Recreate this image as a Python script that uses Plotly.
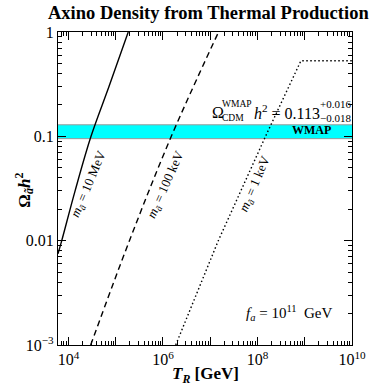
import plotly.graph_objects as go
import numpy as np

# ---- data ----
TR_10MeV = [6.0e3, 7.2e3, 1.38e4, 3.0e4, 7.2e4, 1.84e5]
Om_10MeV = [0.0075, 0.01, 0.03, 0.1, 0.3, 1.0]

TR_100keV = [2.95e4, 1.95e5, 1.5e6, 1.5e7]
Om_100keV = [0.001, 0.01, 0.1, 1.0]

TR_1keV = [1.86e6, 1.48e7, 1.48e8, 8.3e8, 1.0e10]
Om_1keV = [0.001, 0.01, 0.1, 0.53, 0.53]

omega_wmap = 0.113
err_plus = 0.016
err_minus = 0.018

x_tickvals = [1e4, 1e5, 1e6, 1e7, 1e8, 1e9, 1e10]
x_ticktext = ["10<sup>4</sup>", "", "10<sup>6</sup>", "", "10<sup>8</sup>", "", "10<sup>10</sup>"]
y_tickvals = [1e-3, 1e-2, 1e-1, 1]
y_ticktext = ["10<sup>−3</sup>", "0.01", "0.1", "1"]

FONT = "Liberation Serif"
W, H = 378, 387
L, R, T, B = 58, 366, 32, 345


def P(px, py):
    return (px - L) / (R - L), (B - py) / (B - T)


def minor_vals(lo, hi):
    return [k * 10.0 ** n for n in range(lo, hi) for k in range(2, 10)]


fig = go.Figure()

band_lo = omega_wmap - err_minus
band_hi = omega_wmap + err_plus
fig.add_trace(go.Scatter(x=[1e3, 1e11], y=[band_lo, band_lo], mode="lines",
                         line=dict(color="#999999", width=1), showlegend=False, hoverinfo="skip"))
fig.add_trace(go.Scatter(x=[1e3, 1e11], y=[band_hi, band_hi], mode="lines", fill="tonexty",
                         fillcolor="#00FFFF",
                         line=dict(color="#999999", width=1), showlegend=False, hoverinfo="skip"))

fig.add_trace(go.Scatter(x=TR_10MeV, y=Om_10MeV, mode="lines", line_shape="spline",
                         line=dict(color="black", width=1.4), showlegend=False))
fig.add_trace(go.Scatter(x=TR_100keV, y=Om_100keV, mode="lines", line_shape="spline",
                         line=dict(color="black", width=1.4, dash="6px,4px"), showlegend=False))
fig.add_trace(go.Scatter(x=TR_1keV, y=Om_1keV, mode="lines",
                         line=dict(color="black", width=1.4, dash="1.5px,2.5px"), showlegend=False))

axis_common = dict(
    showline=True, linecolor="black", linewidth=1.2, mirror="allticks",
    ticks="inside", ticklen=8, tickwidth=1, tickcolor="black",
    showgrid=False, zeroline=False, ticklabeloverflow="allow",
    tickfont=dict(family=FONT, size=16, color="black"),
)

fig.update_xaxes(type="log", range=[np.log10(6.0e3), 10],
                 tickmode="array", tickvals=x_tickvals, ticktext=x_ticktext,
                 minor=dict(ticks="inside", ticklen=4, tickwidth=1, tickcolor="black",
                            showgrid=False, tickmode="array", tickvals=minor_vals(3, 10)),
                 **axis_common)
fig.update_yaxes(type="log", range=[-3, 0],
                 tickmode="array", tickvals=y_tickvals, ticktext=y_ticktext,
                 minor=dict(ticks="inside", ticklen=4, tickwidth=1, tickcolor="black",
                            showgrid=False, tickmode="array", tickvals=minor_vals(-3, 0)),
                 **axis_common)

ann = []


def add(text, px, py, size, angle=0, xanchor="center", yanchor="middle"):
    xp, yp = P(px, py)
    ann.append(dict(text=text, x=xp, y=yp, xref="paper", yref="paper", showarrow=False,
                    textangle=angle, xanchor=xanchor, yanchor=yanchor,
                    font=dict(family=FONT, size=size, color="black")))


# title and axis titles
add("<b>Axino Density from Thermal Production</b>", 216, 13, 18.5)
add("<b><i>T</i><sub><i>R</i></sub> [GeV]</b>", 212, 375, 17)
add("<b>Ω<sub><i>ã</i></sub><i>h</i><sup>2</sup></b>", 22, 190, 17, angle=-90)

# line labels
add("<i>m<sub>ã</sub></i> = 10 MeV", 90, 184, 13, angle=-67)
add("<i>m<sub>ã</sub></i> = 100 keV", 171, 184, 13, angle=-66)
add("<i>m<sub>ã</sub></i> = 1 keV", 264, 184, 13, angle=-67)

# WMAP annotation
add("Ω", 217, 112, 16, xanchor="left")
add("WMAP", 228, 104, 9.5, xanchor="left")
add("CDM", 228, 118, 9.5, xanchor="left")
add("<i>h</i><sup>2</sup> = 0.113", 261, 112, 16, xanchor="left")
add("+0.016", 330, 104, 11, xanchor="left")
add("−0.018", 330, 118, 11, xanchor="left")
add("<b>WMAP</b>", 324, 130, 12)

add("<i>f<sub>a</sub></i> = 10<sup>11</sup>  GeV", 301, 313, 15)

fig.update_layout(
    width=W, height=H,
    margin=dict(l=L, r=W - R, t=T, b=H - B, pad=0),
    plot_bgcolor="white", paper_bgcolor="white",
    annotations=ann, showlegend=False,
    font=dict(family=FONT, color="black"),
)

fig.write_html("out.html", config={"displayModeBar": False},
               post_script="document.body.style.margin='0';document.body.style.padding='0';"
                           "document.body.style.overflow='hidden';")
